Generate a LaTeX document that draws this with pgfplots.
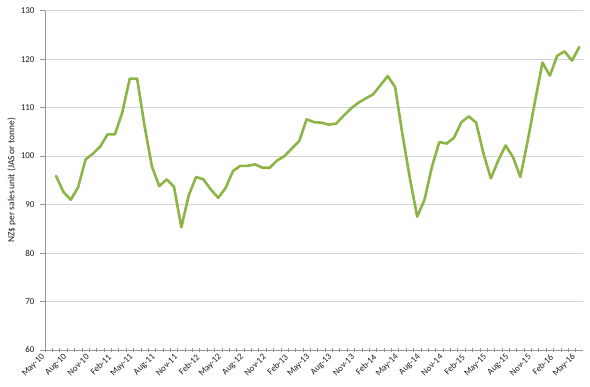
\documentclass[border=0pt]{standalone}
\usepackage{fontspec}
\setmainfont{Carlito}
\usepackage{pgfplots}
\usepackage{pgfplotstable}
\pgfplotsset{compat=1.18}
\definecolor{linegreen}{RGB}{140,180,70}
\definecolor{gridgray}{RGB}{212,212,212}
\definecolor{axisgray}{RGB}{150,150,150}
\definecolor{txt}{RGB}{30,30,30}
\pgfplotstableread{
x y
1 95.9
2 92.6
3 91.0
4 93.6
5 99.3
6 100.5
7 102.0
8 104.5
9 104.5
10 109.1
11 116.0
12 116.0
13 106.3
14 97.9
15 93.8
16 95.2
17 93.7
18 85.3
19 91.9
20 95.7
21 95.2
22 93.1
23 91.4
24 93.4
25 96.9
26 98.0
27 98.0
28 98.3
29 97.6
30 97.6
31 99.1
32 100.0
33 101.6
34 103.1
35 107.6
36 107.0
37 106.9
38 106.5
39 106.7
40 108.3
41 109.8
42 111.0
43 111.9
44 112.7
45 114.6
46 116.5
47 114.3
48 104.5
49 95.5
50 87.5
51 91.0
52 97.8
53 102.9
54 102.6
55 103.8
56 107.0
57 108.2
58 106.9
59 100.5
60 95.4
61 99.1
62 102.2
63 99.8
64 95.7
65 103.2
66 111.4
67 119.3
68 116.6
69 120.7
70 121.6
71 119.7
72 122.5
}\pricedata
\begin{document}
\begin{tikzpicture}
\begin{axis}[
  scale only axis,
  width=538bp, height=339.3bp,
  xmin=-0.5, xmax=72.5,
  ymin=60, ymax=130,
  ytick={60,70,...,130},
  xtick={-0.5,2.5,...,71.5},
  xticklabels={May-10,Aug-10,Nov-10,Feb-11,May-11,Aug-11,Nov-11,Feb-12,May-12,Aug-12,Nov-12,Feb-13,May-13,Aug-13,Nov-13,Feb-14,May-14,Aug-14,Nov-14,Feb-15,May-15,Aug-15,Nov-15,Feb-16,May-16},
  minor x tick num=2,
  axis x line*=bottom,
  axis y line*=left,
  axis line style={axisgray, line width=0.8bp},
  ymajorgrids,
  major grid style={gridgray, line width=0.8bp},
  x tick style={axisgray, line width=0.6bp},
  y tick style={axisgray, line width=0.6bp},
  x tick params/.style={},
  xtick align=center,
  ytick align=outside,
  major tick length=5bp,
  minor tick length=4bp,
  /pgf/number format/assume math mode=true,
  tick label style={font=\fontsize{9}{10}\selectfont, text=txt},
  yticklabel style={xshift=-2bp},
  xticklabel style={rotate=45, anchor=east, yshift=-1bp},
  ylabel={NZ\$ per sales unit (JAS or tonne)},
  ylabel style={font=\fontsize{9.5}{10}\selectfont, text=txt, yshift=-2bp},
  clip=false,
]
\addplot[linegreen, line width=2.6bp, line join=round, line cap=round] table[x=x,y=y] {\pricedata};
\end{axis}
\pgfresetboundingbox
\path[use as bounding box] ([shift={(-45bp,-37bp)}]current axis.south west) rectangle ([shift={(7bp,10.7bp)}]current axis.north east);
\end{tikzpicture}
\end{document}
